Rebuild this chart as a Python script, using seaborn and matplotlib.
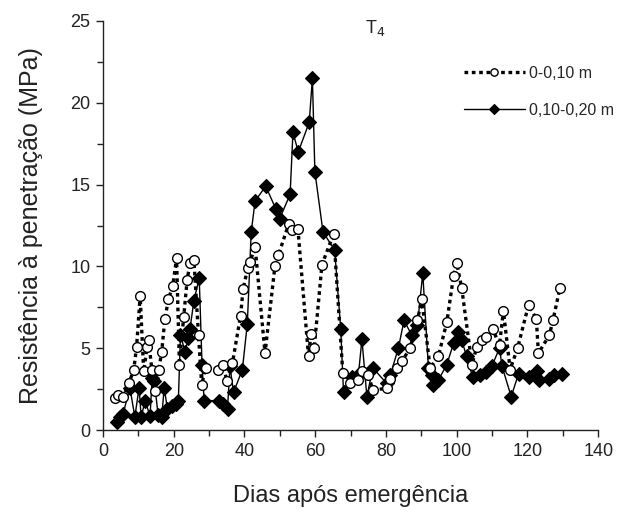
import matplotlib
matplotlib.use("Agg")
import matplotlib.pyplot as plt
from matplotlib.ticker import MultipleLocator
import seaborn as sns
import pandas as pd

# Penetration resistance, layer 0-0,10 m
days_top = [3.4, 4.3, 5.7, 7.4, 8.7, 9.5, 10.5, 11.5, 12.5, 12.9, 13.8, 14.6,
            15.8, 16.6, 17.5, 18.5, 19.7, 20.8, 21.6, 22.8, 23.8, 24.6, 25.7,
            27.0, 27.9, 29.0, 32.6, 34.0, 35.0, 36.6, 38.9, 39.6, 40.9, 41.6,
            43.0, 45.8, 48.6, 49.6, 52.5, 53.5, 55.1, 58.1, 58.8, 59.7, 61.9,
            65.2, 67.8, 69.9, 72.2, 73.2, 75.0, 76.3, 80.2, 81.0, 83.1, 84.5,
            86.8, 88.9, 90.1, 92.5, 94.8, 97.2, 99.1, 100.0, 101.4, 104.3,
            105.7, 107.1, 108.3, 110.2, 112.1, 113.2, 115.1, 117.2, 120.3,
            122.5, 123.1, 126.2, 127.2, 129.2]
res_top = [1.95, 2.15, 2.05, 2.9, 3.7, 5.1, 8.2, 3.6, 5.1, 5.5, 3.7, 2.4,
           3.7, 4.8, 6.8, 8.0, 8.8, 10.5, 4.0, 6.9, 9.2, 10.2, 10.4,
           5.8, 2.75, 3.8, 3.7, 4.0, 3.0, 4.1, 7.0, 8.6, 9.9, 10.3,
           11.2, 4.7, 10.0, 10.7, 12.6, 12.2, 12.3, 4.5, 5.9, 5.0, 10.1,
           12.0, 3.5, 2.85, 3.05, 3.6, 3.35, 2.45, 2.55, 3.15, 3.8, 4.2,
           5.0, 6.7, 8.0, 3.8, 4.5, 6.6, 9.4, 10.2, 8.7, 4.0,
           5.1, 5.5, 5.7, 6.15, 5.2, 7.3, 3.7, 5.0, 7.65,
           6.8, 4.7, 5.8, 6.7, 8.7]

# Penetration resistance, layer 0,10-0,20 m
days_sub = [3.9, 4.8, 5.7, 7.6, 9.0, 10.2, 10.8, 11.9, 13.3, 13.9, 14.5,
            15.6, 16.6, 17.3, 18.2, 19.4, 20.6, 21.3, 21.9, 23.2, 24.1, 24.6,
            25.7, 27.2, 28.0, 28.6, 32.8, 34.0, 35.2, 35.9, 36.9, 39.4, 40.8,
            41.9, 43.0, 46.0, 48.9, 49.9, 52.9, 53.7, 55.2, 58.3, 59.2, 59.9,
            62.2, 65.5, 67.2, 68.0, 70.3, 72.2, 73.2, 74.6, 76.3, 80.2, 81.2,
            83.5, 85.1, 87.3, 88.9, 90.4, 92.0, 93.0, 93.4, 94.8, 97.2, 99.1,
            100.5, 101.4, 102.8, 104.5, 106.6, 108.3, 109.9, 112.1, 112.8,
            115.4, 117.5, 120.3, 122.6, 123.4, 126.2, 127.4, 129.7]
res_sub = [0.5, 0.8, 1.0, 2.6, 0.8, 2.6, 0.8, 1.8, 0.85, 3.2, 3.0,
           0.9, 0.8, 2.6, 1.3, 1.5, 1.6, 1.8, 5.8, 4.8, 5.6, 6.2,
           7.9, 9.3, 4.0, 1.8, 1.8, 1.6, 1.3, 3.9, 2.3, 3.7, 6.5,
           12.1, 14.0, 14.9, 13.5, 12.9, 14.4, 18.2, 17.0, 18.8, 21.5, 15.8,
           12.1, 11.0, 6.2, 2.3, 3.25, 3.35, 5.55, 2.05, 3.8, 2.85, 3.35,
           5.0, 6.7, 5.8, 6.4, 9.6, 3.8, 3.35, 2.75, 3.05, 4.0, 5.3,
           6.0, 5.5, 4.5, 3.25, 3.35, 3.55, 3.9, 5.0, 3.9,
           2.05, 3.45, 3.25, 3.6, 3.05, 3.15, 3.35, 3.45]

layer_labels = ["0-0,10 m", "0,10-0,20 m"]
x_ticks = [0, 20, 40, 60, 80, 100, 120, 140]
y_ticks = [0, 5, 10, 15, 20, 25]

sns.set_theme(style="ticks")
plt.rcParams["font.family"] = ["Liberation Sans", "DejaVu Sans"]

top = pd.DataFrame({"dia": days_top, "rp": res_top})
sub = pd.DataFrame({"dia": days_sub, "rp": res_sub})

fig = plt.figure(figsize=(6.19, 5.12), dpi=100)
ax = fig.add_axes([0.1664, 0.160, 0.80, 0.799])

sns.lineplot(data=sub, x="dia", y="rp", ax=ax, sort=False, estimator=None,
             color="black", linewidth=1.0, linestyle="-", marker="D",
             markersize=7, markerfacecolor="black", markeredgecolor="black",
             markeredgewidth=0.8, label=layer_labels[1], zorder=2)
sns.lineplot(data=top, x="dia", y="rp", ax=ax, sort=False, estimator=None,
             color="black", linewidth=2.4, linestyle=(0, (1.1, 1.1)),
             marker="o", markersize=7, markerfacecolor="white",
             markeredgecolor="black", markeredgewidth=1.0,
             label=layer_labels[0], zorder=3)

ax.set_xlim(0, 140)
ax.set_ylim(0, 25)
ax.set_xticks(x_ticks)
ax.set_yticks(y_ticks)
ax.xaxis.set_minor_locator(MultipleLocator(10))
ax.yaxis.set_minor_locator(MultipleLocator(2.5))
ax.tick_params(axis="both", which="major", direction="out", length=5,
               width=1, labelsize=13, colors="#222222", pad=4)
ax.tick_params(axis="both", which="minor", direction="out", length=4,
               width=1, color="#222222")
for side in ("top", "right"):
    ax.spines[side].set_visible(False)
for side in ("left", "bottom"):
    ax.spines[side].set_color("#222222")
    ax.spines[side].set_linewidth(1.0)

ax.set_xlabel("Dias após emergência", fontsize=17, color="#222222", labelpad=18)
ax.set_ylabel("Resistência à penetração (MPa)", fontsize=18, color="#222222",
              labelpad=20)
ax.set_title("T$_4$", fontsize=13, color="#222222", y=0.95, x=0.55)

handles, labels = ax.get_legend_handles_labels()
order = [labels.index(layer_labels[0]), labels.index(layer_labels[1])]
ax.legend([handles[i] for i in order], [labels[i] for i in order],
          loc="upper right", bbox_to_anchor=(1.06, 0.925), frameon=False,
          fontsize=11.5, handlelength=3.8, markerscale=0.75,
          labelspacing=1.35, handletextpad=0.25)

fig.savefig("out.png", dpi=100)
